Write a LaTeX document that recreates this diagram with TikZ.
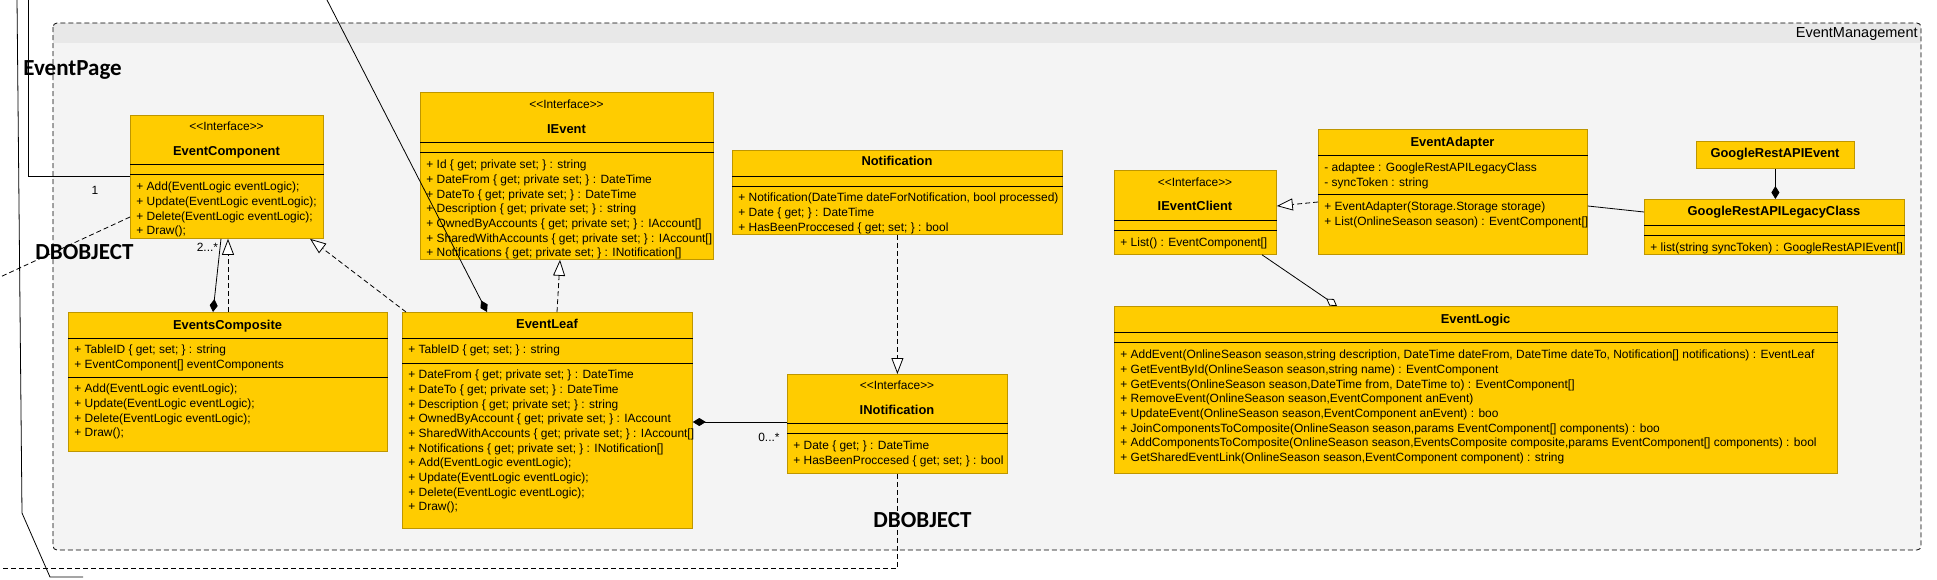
\documentclass[tikz,border=0pt]{standalone}
\usepackage{fontspec}
\setmainfont{Liberation Sans}
\newfontfamily\tagfont{Carlito}
\usetikzlibrary{arrows.meta}

\definecolor{classfill}{RGB}{255,204,0}
\definecolor{classedge}{RGB}{190,150,0}
\definecolor{pkgfill}{RGB}{244,244,244}
\definecolor{pkghead}{RGB}{232,232,232}

\tikzset{
  umlclass/.style={draw=classedge, fill=classfill, anchor=north west, inner sep=0pt},
  members/.style={anchor=north west, inner sep=0pt, align=left, font=\fontsize{11.95}{14.67}\selectfont},
  stereo/.style={anchor=base, inner sep=0pt, font=\fontsize{11.95}{14}\selectfont},
  cname/.style={anchor=base, inner sep=0pt, font=\bfseries\fontsize{12.9}{15}\selectfont},
  mult/.style={inner sep=0pt, font=\fontsize{11.95}{14}\selectfont},
  bigtag/.style={anchor=base west, inner sep=0pt, font=\tagfont\bfseries\fontsize{23}{26}\selectfont},
  dep/.style={dash pattern=on 5pt off 3pt},
  realize/.style={dep, -{Triangle[open, fill=white, length=16pt, width=12pt]}},
  compose/.style={-{Diamond[length=13pt, width=8pt]}},
  aggregate/.style={-{Diamond[open, fill=white, length=13pt, width=8pt]}},
}

\begin{document}
\begin{tikzpicture}[x=1pt, y=-1pt, line width=0.8pt]
  \useasboundingbox (0,0) rectangle (1937,579);
  \fill[white] (0,0) rectangle (1937,579);

  % Package EventManagement
  \begin{scope}
    \clip[rounded corners=4pt] (53,23) rectangle (1921,550);
    \fill[pkgfill] (53,23) rectangle (1921,550);
    \fill[pkghead] (53,23) rectangle (1921,43);
  \end{scope}
  \draw[dep, rounded corners=4pt] (53,23) rectangle (1921,550);
  \node[anchor=base east, inner sep=0pt, font=\fontsize{14.5}{16}\selectfont] (pkgname) at (1918,37) {EventManagement};

  % EventComponent
  \node[umlclass, minimum width=193pt, minimum height=123pt] (ecomp) at (130,115) {};
  \node[stereo] (ecomp-st) at (226.5,130.5) {<{}<Interface>{}>};
  \node[cname] (ecomp-nm) at (226.5,155.5) {EventComponent};
  \draw (ecomp.west |- 0,164) -- (ecomp.east |- 0,164);
  \draw (ecomp.west |- 0,174) -- (ecomp.east |- 0,174);
  \node[members] (ecomp-op) at (136,180.2) {\strut + Add(EventLogic eventLogic);\\
    + Update(EventLogic eventLogic);\\
    + Delete(EventLogic eventLogic);\\
    + Draw();};

  % IEvent
  \node[umlclass, minimum width=293pt, minimum height=167pt] (ievent) at (420,92) {};
  \node[stereo] (ievent-st) at (566.5,108.5) {<{}<Interface>{}>};
  \node[cname] (ievent-nm) at (566.5,133.5) {IEvent};
  \draw (ievent.west |- 0,142) -- (ievent.east |- 0,142);
  \draw (ievent.west |- 0,152) -- (ievent.east |- 0,152);
  \node[members] (ievent-at) at (426,158.2) {\strut + Id \{ get; private set; \} : string\\
    + DateFrom \{ get; private set; \} : DateTime\\
    + DateTo \{ get; private set; \} : DateTime\\
    + Description \{ get; private set; \} : string\\
    + OwnedByAccounts \{ get; private set; \} : IAccount[]\\
    + SharedWithAccounts \{ get; private set; \} : IAccount[]\\
    + Notifications \{ get; private set; \} : INotification[]};

  % Notification
  \node[umlclass, minimum width=330pt, minimum height=84pt] (notif) at (732,150) {};
  \node[cname] (notif-nm) at (897,165.5) {Notification};
  \draw (notif.west |- 0,176) -- (notif.east |- 0,176);
  \draw (notif.west |- 0,186) -- (notif.east |- 0,186);
  \node[members] (notif-op) at (738,191.2) {\strut + Notification(DateTime dateForNotification, bool processed)\\
    + Date \{ get; \} : DateTime\\
    + HasBeenProccesed \{ get; set; \} : bool};

  % IEventClient
  \node[umlclass, minimum width=162pt, minimum height=84pt] (eclient) at (1114,170) {};
  \node[stereo] (eclient-st) at (1195,186.5) {<{}<Interface>{}>};
  \node[cname] (eclient-nm) at (1195,210.5) {IEventClient};
  \draw (eclient.west |- 0,220) -- (eclient.east |- 0,220);
  \draw (eclient.west |- 0,230) -- (eclient.east |- 0,230);
  \node[members] (eclient-op) at (1120,236.2) {\strut + List() : EventComponent[]};

  % EventAdapter
  \node[umlclass, minimum width=269pt, minimum height=125pt] (eadapt) at (1318,129) {};
  \node[cname] (eadapt-nm) at (1452.5,146.5) {EventAdapter};
  \draw (eadapt.west |- 0,155) -- (eadapt.east |- 0,155);
  \node[members] (eadapt-at) at (1324,161.2) {\strut - adaptee : GoogleRestAPILegacyClass\\
    - syncToken : string};
  \draw (eadapt.west |- 0,194) -- (eadapt.east |- 0,194);
  \node[members] (eadapt-op) at (1324,200.2) {\strut + EventAdapter(Storage.Storage storage)\\
    + List(OnlineSeason season) : EventComponent[]};

  % GoogleRestAPIEvent
  \node[umlclass, minimum width=158pt, minimum height=27pt] (gevent) at (1696,141) {};
  \node[cname] (gevent-nm) at (1775,157.5) {GoogleRestAPIEvent};

  % GoogleRestAPILegacyClass
  \node[umlclass, minimum width=260pt, minimum height=55pt] (glegacy) at (1644,199) {};
  \node[cname] (glegacy-nm) at (1774,215.5) {GoogleRestAPILegacyClass};
  \draw (glegacy.west |- 0,225) -- (glegacy.east |- 0,225);
  \draw (glegacy.west |- 0,235) -- (glegacy.east |- 0,235);
  \node[members] (glegacy-op) at (1650,241.2) {\strut + list(string syncToken) : GoogleRestAPIEvent[]};

  % EventLogic
  \node[umlclass, minimum width=723pt, minimum height=167pt] (elogic) at (1114,306) {};
  \node[cname] (elogic-nm) at (1475.5,323.5) {EventLogic};
  \draw (elogic.west |- 0,332) -- (elogic.east |- 0,332);
  \draw (elogic.west |- 0,342) -- (elogic.east |- 0,342);
  \node[members] (elogic-op) at (1120,348.2) {\strut + AddEvent(OnlineSeason season,string description, DateTime dateFrom, DateTime dateTo, Notification[] notifications) : EventLeaf\\
    + GetEventById(OnlineSeason season,string name) : EventComponent\\
    + GetEvents(OnlineSeason season,DateTime from, DateTime to) : EventComponent[]\\
    + RemoveEvent(OnlineSeason season,EventComponent anEvent)\\
    + UpdateEvent(OnlineSeason season,EventComponent anEvent) : boo\\
    + JoinComponentsToComposite(OnlineSeason season,params EventComponent[] components) : boo\\
    + AddComponentsToComposite(OnlineSeason season,EventsComposite composite,params EventComponent[] components) : bool\\
    + GetSharedEventLink(OnlineSeason season,EventComponent component) : string};

  % EventsComposite
  \node[umlclass, minimum width=319pt, minimum height=139pt] (ecompo) at (68,312) {};
  \node[cname] (ecompo-nm) at (227.5,329.5) {EventsComposite};
  \draw (ecompo.west |- 0,338) -- (ecompo.east |- 0,338);
  \node[members] (ecompo-at) at (74,343.2) {\strut + TableID \{ get; set; \} : string\\
    + EventComponent[] eventComponents};
  \draw (ecompo.west |- 0,377) -- (ecompo.east |- 0,377);
  \node[members] (ecompo-op) at (74,382.2) {\strut + Add(EventLogic eventLogic);\\
    + Update(EventLogic eventLogic);\\
    + Delete(EventLogic eventLogic);\\
    + Draw();};

  % EventLeaf
  \node[umlclass, minimum width=290pt, minimum height=216pt] (eleaf) at (402,312) {};
  \node[cname] (eleaf-nm) at (547,328.5) {EventLeaf};
  \draw (eleaf.west |- 0,338) -- (eleaf.east |- 0,338);
  \node[members] (eleaf-at) at (408,343.2) {\strut + TableID \{ get; set; \} : string};
  \draw (eleaf.west |- 0,363) -- (eleaf.east |- 0,363);
  \node[members] (eleaf-op) at (408,368.2) {\strut + DateFrom \{ get; private set; \} : DateTime\\
    + DateTo \{ get; private set; \} : DateTime\\
    + Description \{ get; private set; \} : string\\
    + OwnedByAccount \{ get; private set; \} : IAccount\\
    + SharedWithAccounts \{ get; private set; \} : IAccount[]\\
    + Notifications \{ get; private set; \} : INotification[]\\
    + Add(EventLogic eventLogic);\\
    + Update(EventLogic eventLogic);\\
    + Delete(EventLogic eventLogic);\\
    + Draw();};

  % INotification
  \node[umlclass, minimum width=220pt, minimum height=99pt] (inotif) at (787,374) {};
  \node[stereo] (inotif-st) at (897,389.5) {<{}<Interface>{}>};
  \node[cname] (inotif-nm) at (897,414.5) {INotification};
  \draw (inotif.west |- 0,423) -- (inotif.east |- 0,423);
  \draw (inotif.west |- 0,433) -- (inotif.east |- 0,433);
  \node[members] (inotif-at) at (793,439.2) {\strut + Date \{ get; \} : DateTime\\
    + HasBeenProccesed \{ get; set; \} : bool};

  % Tags
  \node[bigtag] (tag-page) at (23,75) {EventPage};
  \node[bigtag] (tag-db1) at (35,259) {DBOBJECT};
  \node[bigtag] (tag-db2) at (873,527) {DBOBJECT};

  % Free ends of connectors
  \coordinate (pagetop) at (28,-2);
  \coordinate (leaftop) at (326,-2);
  \coordinate (dbleft) at (-2,278);
  \coordinate (dbbottom) at (-2,568);
  \coordinate (wireA) at (17,-2);
  \coordinate (wireB) at (22,513);
  \coordinate (wireC) at (50,577);
  \coordinate (wireD) at (83,577);

  % Connectors
  \draw (wireA) -- (wireB) -- (wireC) -- (wireD);
  \draw (pagetop) |- (ecomp.west |- 0,176);
  \node[mult, anchor=base] (m-one) at (95,194) {1};
  \draw[compose] (leaftop) -- (eleaf.north -| 487,0);
  \draw[dep] (ecomp.west |- 0,217) -- (dbleft);
  \draw[compose] (ecomp.south -| 221,0) -- (ecompo.north -| 213,0);
  \node[mult, anchor=base east] (m-two) at (218.5,251) {2...*};
  \draw[realize] (ecompo.north -| 228,0) -- (ecomp.south -| 228,0);
  \draw[realize] (eleaf.north -| 406,0) -- (ecomp.south -| 310,0);
  \draw[realize] (eleaf.north -| 557,0) -- (ievent.south -| 560,0);
  \draw[compose] (inotif.west |- 0,422) -- (eleaf.east |- 0,422);
  \node[mult, anchor=base east] (m-zero) at (780,441) {0...*};
  \draw[realize] (notif.south) -- (inotif.north);
  \draw[dep] (inotif.south) |- (dbbottom);
  \draw[realize] (eadapt.west |- 0,202) -- (eclient.east |- 0,206);
  \draw (eadapt.east |- 0,206) -- (glegacy.west |- 0,212);
  \draw[compose] (gevent.south) -- (gevent.south |- glegacy.north);
  \draw[aggregate] (eclient.south -| 1262,0) -- (elogic.north -| 1337,0);
\end{tikzpicture}
\end{document}
